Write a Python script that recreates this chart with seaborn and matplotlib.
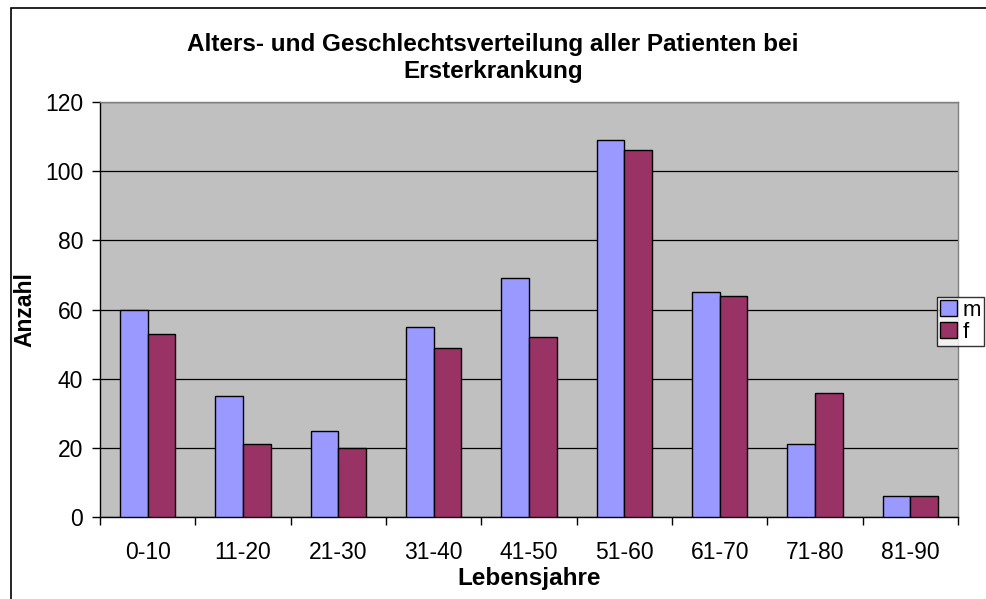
import matplotlib.pyplot as plt
import matplotlib.patches as mpatches
import pandas as pd
import seaborn as sns

# data
altersgruppen = ["0-10", "11-20", "21-30", "31-40", "41-50", "51-60", "61-70", "71-80", "81-90"]
maennlich = [60, 35, 25, 55, 69, 109, 65, 21, 6]
weiblich = [53, 21, 20, 49, 52, 106, 64, 36, 6]

df = pd.DataFrame({
    "Lebensjahre": altersgruppen * 2,
    "Anzahl": maennlich + weiblich,
    "Geschlecht": ["m"] * len(maennlich) + ["f"] * len(weiblich),
})

sns.set_style("white")
plt.rcParams["font.family"] = ["Liberation Sans", "DejaVu Sans"]
plt.rcParams["text.color"] = "black"
plt.rcParams["axes.labelcolor"] = "black"
plt.rcParams["xtick.color"] = "black"
plt.rcParams["ytick.color"] = "black"
plt.rcParams["xtick.bottom"] = True
plt.rcParams["ytick.left"] = True

fs = 16.5

fig = plt.figure(figsize=(9.86, 5.99), dpi=100)
ax = fig.add_axes([0.1014, 0.1369, 0.8702, 0.6928])

farben = {"m": "#9999FF", "f": "#993366"}
sns.barplot(data=df, x="Lebensjahre", y="Anzahl", hue="Geschlecht",
            palette=farben, width=0.58, gap=0, edgecolor="black",
            linewidth=1, saturation=1, ax=ax, zorder=3, legend=False)

ax.set_facecolor("#C0C0C0")
ax.set_ylim(0, 120)
ax.set_yticks(range(0, 121, 20))
ax.set_xlim(-0.5, len(altersgruppen) - 0.5)
ax.yaxis.grid(True, color="black", linewidth=0.9, zorder=0)
ax.set_axisbelow(True)

# ticks between categories on the x axis
ax.set_xticks(range(len(altersgruppen)))
ax.set_xticklabels(altersgruppen)
ax.set_xticks([i - 0.5 for i in range(len(altersgruppen) + 1)], minor=True)
ax.tick_params(axis="x", which="major", length=0, labelsize=16.5, pad=17.5)
ax.tick_params(axis="x", which="minor", length=6, width=1, color="black", direction="out")
ax.tick_params(axis="y", length=6, width=1, color="black", direction="out", labelsize=16.5, pad=6)

for s in ["top", "right"]:
    ax.spines[s].set_color("#808080")
    ax.spines[s].set_linewidth(1)
for s in ["left", "bottom"]:
    ax.spines[s].set_color("black")
    ax.spines[s].set_linewidth(1)

ax.set_xlabel("Lebensjahre", fontsize=17.5, fontweight="bold", labelpad=2)
ax.set_ylabel("Anzahl", fontsize=fs, fontweight="bold", labelpad=6)
fig.suptitle("Alters- und Geschlechtsverteilung aller Patienten bei\nErsterkrankung",
             x=0.5, y=0.945, fontsize=17.5, fontweight="bold", linespacing=1.25)

handles = [mpatches.Patch(facecolor=farben[k], edgecolor="black", label=k) for k in ["m", "f"]]
leg = fig.legend(handles=handles, loc="upper left", bbox_to_anchor=(0.95, 0.505),
                 frameon=True, fancybox=False, fontsize=16, handlelength=0.75,
                 handleheight=0.75, handletextpad=0.25, borderpad=0.15, labelspacing=0.05,
                 borderaxespad=0)
leg.get_frame().set_edgecolor("black")
leg.get_frame().set_linewidth(1)

# outer chart border
fig.add_artist(mpatches.Rectangle((0.011, -0.01), 1.0, 0.997, transform=fig.transFigure,
                                  fill=False, edgecolor="black", linewidth=1.2))

fig.savefig("out.png", dpi=100)
